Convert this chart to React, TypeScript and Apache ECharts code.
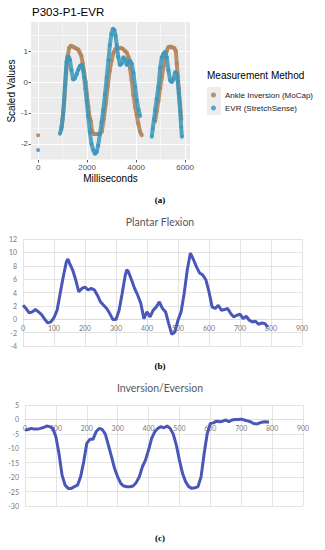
import React, { useEffect, useRef } from "react";
import * as echarts from "echarts";

// ---------- Panel (a): P303-P1-EVR (scaled values vs milliseconds) ----------
const mocapMs = [0, 470,
  940, 1000, 1060, 1110, 1160, 1210, 1270, 1330, 1400, 1480, 1560, 1640, 1700, 1760, 1820, 1880, 1940, 1990,
  2050, 2100, 2150, 2200, 2280, 2400, 2520, 2600, 2680, 2760, 2840, 2920, 3000, 3080, 3160, 3250, 3350, 3450,
  3550, 3620, 3690, 3750, 3820, 3890, 3960, 4025, 4090, 4160, 4230, 4500,
  4775, 4840, 4910, 4980, 5050, 5120, 5180, 5250, 5320, 5400, 5480, 5560, 5620, 5660, 5700, 5740, 5790, 5840];
const mocapValues = [-1.72, null,
  -1.55, -1.2, -0.7, -0.1, 0.45, 0.85, 1.1, 1.17, 1.15, 1.12, 1.08, 1.05, 0.95, 0.85, 0.6, 0.3, 0.0, -0.4,
  -0.8, -1.15, -1.25, -1.6, -1.68, -1.68, -1.67, -1.6, -1.2, -0.7, -0.15, 0.35, 0.7, 0.95, 1.07, 1.1, 1.1, 1.08,
  1.0, 0.95, 0.8, 0.45, 0.05, -0.42, -0.8, -1.06, -1.35, -1.6, -1.72, null,
  -1.27, -0.95, -0.6, -0.2, 0.15, 0.5, 0.8, 1.0, 1.13, 1.14, 1.12, 1.1, 1.0, 0.6, 0.2, -0.2, -0.7, -1.2];

const evrMs = [0, 440,
  890, 960, 1020, 1060, 1090, 1130, 1160, 1200, 1250, 1300, 1360, 1430, 1500, 1570, 1640, 1710, 1770, 1830,
  1880, 1930, 1980, 2040, 2110, 2180, 2250, 2320, 2390, 2450, 2520, 2590, 2660, 2730, 2800, 2870, 2930, 2990,
  3050, 3110, 3160, 3210, 3270, 3340, 3410, 3480, 3550, 3620, 3690, 3750, 3820, 3890, 3960, 4030, 4100, 4160, 4400,
  4640, 4680, 4730, 4780, 4840, 4910, 4980, 5050, 5120, 5180, 5250, 5320, 5390, 5460, 5530, 5590, 5660, 5700,
  5740, 5800, 5840, 5870];
const evrValues = [-2.2, null,
  -1.67, -1.45, -1.05, -0.6, -0.16, 0.3, 0.65, 0.8, 0.82, 0.72, 0.38, 0.08, 0.12, 0.25, 0.4, 0.52, 0.55, 0.42,
  0.15, -0.2, -0.6, -1.1, -1.62, -2.0, -2.2, -2.32, -2.26, -2.05, -1.7, -1.3, -0.9, -0.4, 0.15, 0.7, 1.2, 1.55,
  1.72, 1.68, 1.5, 1.2, 0.82, 0.55, 0.6, 0.8, 0.72, 0.55, 0.65, 0.7, 0.6, 0.3, -0.15, -0.6, -0.9, -1.1, null,
  -1.77, -1.5, -1.2, -0.9, -0.55, -0.16, 0.45, 0.8, 0.92, 0.97, 0.8, 0.38, 0.05, 0.0, 0.1, 0.32, 0.27, 0.0,
  -0.35, -0.95, -1.45, -1.77];

const msTicks = [0, 2000, 4000, 6000];
const msMinorLines = [1000, 3000, 5000];
const scaledTicks = [-2, -1, 0, 1];
const scaledMinorLines = [-2.5, -1.5, -0.5, 0.5, 1.5];
const seriesNames = ["Ankle Inversion (MoCap)", "EVR (StretchSense)"];

// ---------- Panel (b): Plantar Flexion ----------
const plantarFrames = [0, 10, 20, 30, 40, 50, 60, 70, 80, 90, 100, 110, 120, 130, 140, 145, 150, 160, 170, 180,
  190, 200, 210, 220, 230, 240, 250, 260, 270, 280, 290, 300, 310, 320, 330, 335, 340, 350, 360, 370, 380, 390,
  400, 410, 420, 430, 440, 450, 460, 470, 480, 490, 500, 510, 520, 530, 540, 550, 560, 570, 580, 590, 600, 610,
  620, 630, 640, 650, 660, 670, 680, 690, 700, 710, 720, 730, 740, 750, 760, 770, 780, 790];
const plantarValues = [2.1, 1.6, 0.95, 1.1, 1.45, 1.1, 0.7, 0, -0.55, -0.4, 0.25, 1.35, 3.9, 6.4, 8.6, 9.0, 8.4,
  7.4, 5.9, 4.1, 4.6, 4.8, 4.4, 4.6, 4.4, 3.6, 2.6, 2.1, 1.6, 0.85, -0.05, -0.05, 1.35, 3.9, 6.6, 7.4, 7.1, 5.9,
  4.6, 3.6, 2.4, 0.1, 1.1, 0.35, 1.35, 1.85, 2.6, 1.6, 1.1, -0.65, -2.25, -1.9, -0.15, 1.1, 3.9, 7.4, 9.9, 8.9,
  7.8, 6.9, 6.6, 5.9, 4.1, 1.85, 1.6, 2.1, 1.35, 1.45, 1.6, 0.85, 0.35, 0.6, 0.75, 0.1, 0.45, -0.15, -0.4, -0.3,
  -0.75, -0.55, -0.65, -1.15];
const plantarRange = [-4, 12];

// ---------- Panel (c): Inversion/Eversion ----------
const inversionFrames = [0, 10, 20, 30, 40, 50, 60, 70, 80, 90, 100, 110, 120, 130, 140, 150, 160, 170, 180, 190,
  200, 210, 220, 230, 240, 250, 260, 270, 280, 290, 300, 310, 320, 330, 340, 350, 360, 370, 380, 390, 400, 410,
  420, 430, 440, 450, 460, 470, 480, 490, 500, 510, 520, 530, 540, 550, 560, 570, 580, 590, 600, 610, 620, 630,
  640, 650, 660, 670, 680, 690, 700, 710, 720, 730, 740, 750, 760, 770, 780, 790];
const inversionValues = [-3.7, -3.5, -3.1, -3.35, -3.35, -3.1, -2.8, -2.3, -2.5, -3.1, -6, -11.8, -19.3, -22.8,
  -23.9, -23.9, -23.3, -22.8, -19.9, -14.7, -8.3, -6.9, -6.9, -4.3, -3.1, -3.5, -5.1, -8.9, -12.9, -17, -19.9,
  -22.2, -23.1, -23.3, -23.3, -23.1, -21.9, -19.9, -16.4, -14.1, -10.6, -6.6, -4.3, -3.1, -2.5, -2.9, -2.3, -3.1,
  -5.1, -8.9, -14.1, -18.7, -21.6, -23.3, -23.9, -23.7, -23.3, -19.9, -11.8, -4.9, -1.4, -1.2, -0.6, -0.8, -0.6,
  -0.2, -0.8, -0.2, 0, 0, 0.1, -0.2, -0.5, -0.8, -1.4, -1.6, -1.2, -0.9, -0.8, -1.0];
const inversionRange = [-30, 5];

const frameRange = [0, 900];
const frameTicksInterval = 100;

const MOCAP_COLOR = "#B0865F";
const EVR_COLOR = "#3B98BC";
const EXCEL_LINE = "#4A56B8";
const GG_FONT = "Liberation Sans, Arial, sans-serif";
const XL_FONT = "Lato, 'Open Sans', sans-serif";
const SERIF = "'Liberation Serif', 'DejaVu Serif', serif";

const GRID_B = { left: 23, top: 239, width: 279, height: 107 };
const GRID_C = { left: 25, top: 405, width: 278, height: 101 };

function toPairs(xs: number[], ys: (number | null)[]) {
  return xs.map((x, i) => (ys[i] === null ? [x, "-"] : [x, ys[i]]));
}
// distance (px) from the bottom of a grid up to the value 0 of its y axis
function zeroOffset(height: number, range: number[]) {
  return -height * (0 - range[0]) / (range[1] - range[0]);
}

export default function App() {
  const ref = useRef<HTMLDivElement>(null);
  useEffect(() => {
    document.body.style.margin = "0";
    if (!ref.current) return;
    const chart = echarts.init(ref.current, null, { renderer: "svg" });

    const xlAxisLabel = { fontSize: 7, color: "#7A7A7A", fontFamily: XL_FONT };
    const xlSplit = { show: true, lineStyle: { color: "#DDDDDD", width: 0.8 } };
    const center = (text: string, x: number, y: number, extra: any) => ({
      type: "text", x, y,
      style: { text, align: "center", verticalAlign: "middle", textAlign: "center", textVerticalAlign: "middle", ...extra },
    });

    chart.setOption({
      animation: false,
      backgroundColor: "#FFFFFF",
      grid: [
        { left: 31, top: 22, width: 159, height: 138, show: true, backgroundColor: "#EBEBEB", borderWidth: 0 },
        GRID_B,
        GRID_C,
      ],
      xAxis: [
        {
          gridIndex: 0, type: "value", min: -290, max: 6200,
          axisLine: { show: false, onZero: false },
          axisTick: { show: true, customValues: msTicks, length: 2.5, lineStyle: { color: "#333333", width: 0.8 } },
          axisLabel: { customValues: msTicks, fontSize: 8, color: "#4D4D4D", margin: 3, fontFamily: GG_FONT,
            formatter: (v: number) => String(v) },
          splitLine: { show: true, lineStyle: { color: "#FFFFFF", width: 1.1 } },
          name: "Milliseconds", nameLocation: "middle", nameGap: 13,
          nameTextStyle: { fontSize: 10, color: "#000000", fontFamily: GG_FONT },
        },
        {
          gridIndex: 0, type: "value", min: -290, max: 6200, position: "bottom",
          axisLine: { show: false, onZero: false },
          axisTick: { show: false, customValues: msMinorLines },
          axisLabel: { show: false, customValues: msMinorLines },
          splitLine: { show: true, lineStyle: { color: "#FFFFFF", width: 0.5 } },
        },
        {
          gridIndex: 1, type: "value", min: frameRange[0], max: frameRange[1], interval: frameTicksInterval,
          position: "bottom", offset: zeroOffset(GRID_B.height, plantarRange),
          axisLine: { show: true, onZero: false, lineStyle: { color: "#D9D9D9", width: 0.8 } },
          axisTick: { show: false },
          axisLabel: { ...xlAxisLabel, margin: 5 },
          splitLine: xlSplit,
        },
        {
          gridIndex: 2, type: "value", min: frameRange[0], max: frameRange[1], interval: frameTicksInterval,
          position: "bottom", offset: zeroOffset(GRID_C.height, inversionRange),
          axisLine: { show: true, onZero: false, lineStyle: { color: "#D9D9D9", width: 0.8 } },
          axisTick: { show: false },
          axisLabel: { ...xlAxisLabel, margin: 5 },
          splitLine: xlSplit,
        },
      ],
      yAxis: [
        {
          gridIndex: 0, type: "value", min: -2.52, max: 1.94,
          axisLine: { show: false, onZero: false },
          axisTick: { show: true, customValues: scaledTicks, length: 2.5, lineStyle: { color: "#333333", width: 0.8 } },
          axisLabel: { customValues: scaledTicks, fontSize: 8, color: "#4D4D4D", margin: 3, fontFamily: GG_FONT },
          splitLine: { show: true, lineStyle: { color: "#FFFFFF", width: 1.1 } },
          name: "Scaled Values", nameLocation: "middle", nameGap: 11,
          nameTextStyle: { fontSize: 10, color: "#000000", fontFamily: GG_FONT },
        },
        {
          gridIndex: 0, type: "value", min: -2.52, max: 1.94, position: "left",
          axisLine: { show: false, onZero: false },
          axisTick: { show: false, customValues: scaledMinorLines },
          axisLabel: { show: false, customValues: scaledMinorLines },
          splitLine: { show: true, lineStyle: { color: "#FFFFFF", width: 0.5 } },
        },
        {
          gridIndex: 1, type: "value", min: plantarRange[0], max: plantarRange[1], interval: 2,
          axisLine: { show: false, onZero: false }, axisTick: { show: false },
          axisLabel: { ...xlAxisLabel, margin: 6 },
          splitLine: xlSplit,
        },
        {
          gridIndex: 2, type: "value", min: inversionRange[0], max: inversionRange[1], interval: 5,
          axisLine: { show: false, onZero: false }, axisTick: { show: false },
          axisLabel: { ...xlAxisLabel, margin: 6 },
          splitLine: xlSplit,
        },
      ],
      legend: {
        data: seriesNames,
        orient: "vertical",
        left: 211, top: 91,
        icon: "circle",
        itemWidth: 5, itemHeight: 5, itemGap: 5,
        padding: 0,
        textStyle: { fontSize: 8, color: "#1A1A1A", fontFamily: GG_FONT, padding: [0, 0, 0, 4] },
      },
      graphic: [
        { type: "rect", z: -1, shape: { x: 207, y: 87, width: 14, height: 14 }, style: { fill: "#EDEDED" } },
        { type: "rect", z: -1, shape: { x: 207, y: 101, width: 14, height: 14 }, style: { fill: "#EDEDED" } },
        {
          type: "text", x: 32, y: 12,
          style: { text: "P303-P1-EVR", fontSize: 11.5, fill: "#000000", fontFamily: GG_FONT,
            align: "left", verticalAlign: "middle", textAlign: "left", textVerticalAlign: "middle" },
        },
        {
          type: "text", x: 207, y: 75,
          style: { text: "Measurement Method", fontSize: 10, fill: "#000000", fontFamily: GG_FONT,
            align: "left", verticalAlign: "middle", textAlign: "left", textVerticalAlign: "middle" },
        },
        center("(a)", 160, 200, { fontSize: 9, fontWeight: "bold", fill: "#000000", fontFamily: SERIF }),
        center("Plantar Flexion", 160, 222, { fontSize: 10.5, fill: "#595959", fontFamily: XL_FONT }),
        center("(b)", 160, 366, { fontSize: 9, fontWeight: "bold", fill: "#000000", fontFamily: SERIF }),
        center("Inversion/Eversion", 160, 388, { fontSize: 10.5, fill: "#595959", fontFamily: XL_FONT }),
        center("(c)", 160, 538, { fontSize: 9, fontWeight: "bold", fill: "#000000", fontFamily: SERIF }),
      ],
      series: [
        {
          name: seriesNames[0], type: "line", xAxisIndex: 0, yAxisIndex: 0,
          data: toPairs(mocapMs, mocapValues),
          showSymbol: true, showAllSymbol: true, symbol: "circle", symbolSize: 4,
          itemStyle: { color: MOCAP_COLOR, opacity: 0.9 },
          lineStyle: { color: MOCAP_COLOR, width: 4, opacity: 0.9 },
          connectNulls: false, z: 2,
        },
        {
          name: seriesNames[1], type: "line", xAxisIndex: 0, yAxisIndex: 0,
          data: toPairs(evrMs, evrValues),
          showSymbol: true, showAllSymbol: true, symbol: "circle", symbolSize: 4,
          itemStyle: { color: EVR_COLOR, opacity: 0.85 },
          lineStyle: { color: EVR_COLOR, width: 4, opacity: 0.85 },
          connectNulls: false, z: 3,
        },
        {
          name: "Plantar Flexion", type: "line", xAxisIndex: 2, yAxisIndex: 2,
          data: toPairs(plantarFrames, plantarValues),
          showSymbol: false, lineStyle: { color: EXCEL_LINE, width: 3 }, itemStyle: { color: EXCEL_LINE },
        },
        {
          name: "Inversion/Eversion", type: "line", xAxisIndex: 3, yAxisIndex: 3,
          data: toPairs(inversionFrames, inversionValues),
          showSymbol: false, lineStyle: { color: EXCEL_LINE, width: 3 }, itemStyle: { color: EXCEL_LINE },
        },
      ],
    });
    return () => chart.dispose();
  }, []);
  return <div ref={ref} style={{ width: 325, height: 550 }} />;
}
